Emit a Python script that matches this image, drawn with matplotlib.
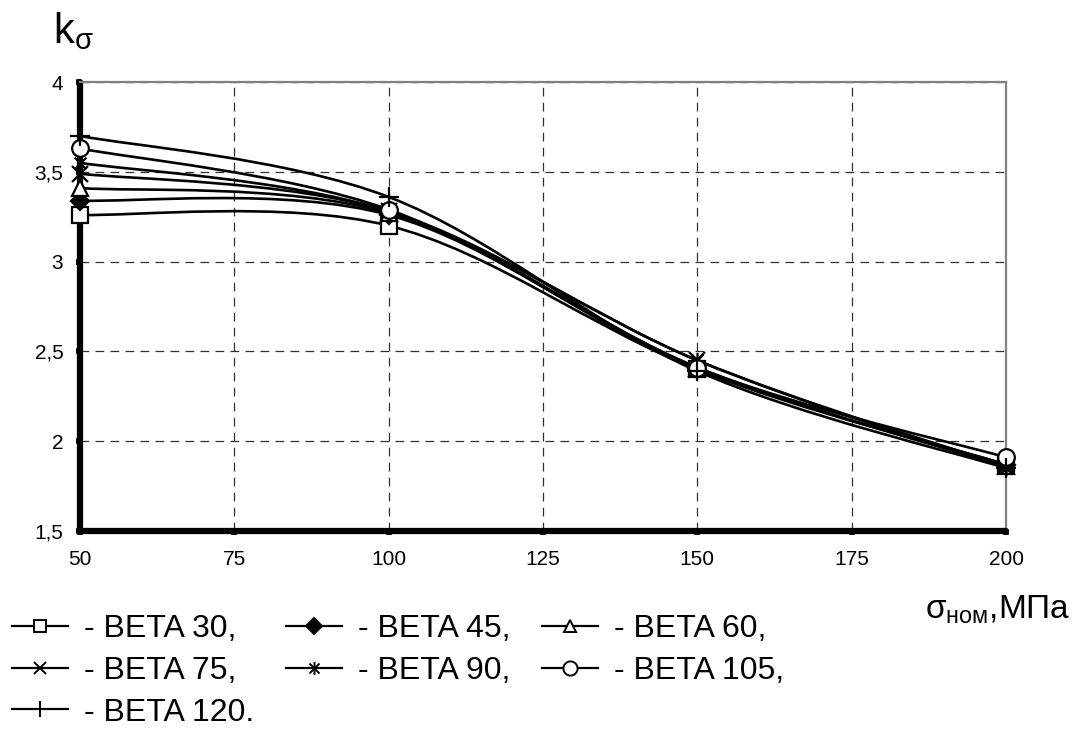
import matplotlib
matplotlib.use("Agg")
import matplotlib.pyplot as plt
import numpy as np
from matplotlib.path import Path
from matplotlib.patches import PathPatch
from matplotlib.lines import Line2D
from matplotlib.ticker import FuncFormatter

plt.rcParams['font.family'] = ['Liberation Sans', 'DejaVu Sans']
plt.rcParams['mathtext.fontset'] = 'custom'
plt.rcParams['mathtext.rm'] = 'Liberation Sans'
plt.rcParams['mathtext.it'] = 'Liberation Sans'

sigma = [50, 100, 150, 200]
beta30 = [3.26, 3.20, 2.40, 1.87]
beta45 = [3.34, 3.26, 2.40, 1.87]
beta60 = [3.41, 3.27, 2.41, 1.86]
beta75 = [3.49, 3.28, 2.45, 1.86]
beta90 = [3.55, 3.28, 2.45, 1.85]
beta105 = [3.63, 3.29, 2.41, 1.91]
beta120 = [3.70, 3.36, 2.39, 1.85]
labels = ['- BETA 30,', '- BETA 45,', '- BETA 60,', '- BETA 75,',
          '- BETA 90,', '- BETA 105,', '- BETA 120.']

# asterisk marker: X with a vertical stroke
ast = Path([(-1, -1), (1, 1), (-1, 1), (1, -1), (0, -1.3), (0, 1.3)],
           [Path.MOVETO, Path.LINETO, Path.MOVETO, Path.LINETO, Path.MOVETO, Path.LINETO])

styles = [
    dict(marker='s', mfc='white', ms=11),
    dict(marker='D', mfc='black', ms=9),
    dict(marker='^', mfc='white', ms=11),
    dict(marker='x', mfc='none', ms=11),
    dict(marker=ast, mfc='none', ms=11),
    dict(marker='o', mfc='white', ms=12),
    dict(marker='+', mfc='none', ms=14),
]


def smooth_path(x, y):
    # smoothed bezier through the points (spreadsheet-style)
    pts = np.column_stack([x, y]).astype(float)
    n = len(pts)
    verts = [pts[0]]
    codes = [Path.MOVETO]
    for i in range(n - 1):
        p0 = pts[max(i - 1, 0)]
        p1 = pts[i]
        p2 = pts[i + 1]
        p3 = pts[min(i + 2, n - 1)]
        verts += [p1 + (p2 - p0) / 6, p2 - (p3 - p1) / 6, p2]
        codes += [Path.CURVE4] * 3
    return Path(verts, codes)


fig = plt.figure(figsize=(10.75, 7.35), dpi=100)
ax = fig.add_axes([80 / 1075, 1 - 531 / 735, (1006 - 80) / 1075, (531 - 82) / 735])

series = [beta30, beta45, beta60, beta75, beta90, beta105, beta120]
handles = []
for vals, st in zip(series, styles):
    ax.add_patch(PathPatch(smooth_path(sigma, vals), fill=False, ec='black', lw=1.9, zorder=3))
    ax.plot(sigma, vals, ls='none', color='black', mec='black', mew=1.6, zorder=4, clip_on=False, **st)
    leg_st = dict(st)
    leg_st['ms'] = st['ms'] * 0.85
    handles.append(Line2D([], [], color='black', lw=1.6, mec='black', mew=1.4, **leg_st))

ax.set_xlim(50, 200)
ax.set_ylim(1.5, 4)
ax.set_xticks([50, 75, 100, 125, 150, 175, 200])
ax.set_yticks([1.5, 2, 2.5, 3, 3.5, 4])
ax.yaxis.set_major_formatter(FuncFormatter(lambda v, p: ('%g' % v).replace('.', ',')))
ax.grid(True, color='#303030', lw=0.9, ls=(0, (7, 5)))
ax.tick_params(labelsize=15, length=3, width=4, direction='out')
ax.tick_params(axis='x', pad=11)
ax.tick_params(axis='y', pad=9)

for s in ['left', 'bottom']:
    ax.spines[s].set_linewidth(4.5)
    ax.spines[s].set_color('black')
    ax.spines[s].set_capstyle('round')
for s in ['top', 'right']:
    ax.spines[s].set_linewidth(1.6)
    ax.spines[s].set_color('#808080')

fig.text(53 / 1075, 1 - 43 / 735, r'$\mathrm{k}_{\mathrm{σ}}$', fontsize=30, va='baseline')
fig.text(1070 / 1075, 1 - 619 / 735, r'$\mathrm{σ}_{\mathrm{ном}}{,}\mathrm{МПа}$',
         fontsize=24, va='baseline', ha='right')

order = [0, 3, 6, 1, 4, 2, 5]
fig.legend([handles[i] for i in order], [labels[i] for i in order], ncol=3,
           loc='upper left', bbox_to_anchor=(12 / 1075, 1 - 614 / 735),
           frameon=False, fontsize=23, handlelength=1.75, handletextpad=0.5,
           columnspacing=1.0, labelspacing=0.37, borderpad=0, borderaxespad=0,
           numpoints=1)

fig.savefig('out.png', dpi=100)
